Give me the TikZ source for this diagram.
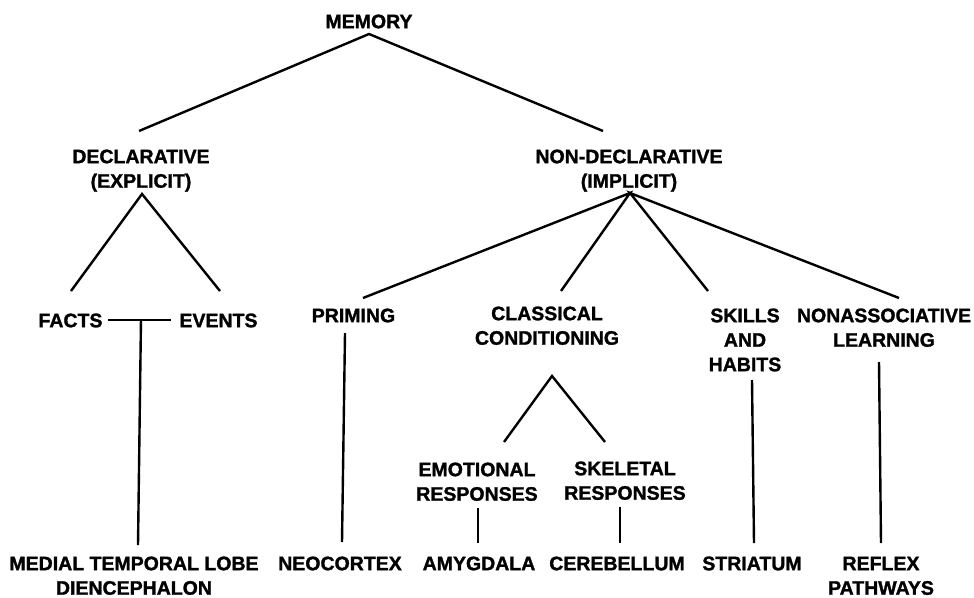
\documentclass[tikz,border=0pt]{standalone}
\usepackage{fontspec}
\setmainfont{Liberation Sans}[BoldFeatures={FakeBold=1.4}]
\usetikzlibrary{calc}
\newcommand{\fstrut}{\rule{0pt}{15pt}}
\tikzset{
  lbl/.style={anchor=north, inner sep=0pt, align=center,
    font=\fontsize{19.5}{24.5}\selectfont\bfseries},
  conn/.style={line width=2.4pt, line cap=butt}
}
\begin{document}
\begin{tikzpicture}[x=1pt,y=-1pt]
\useasboundingbox (0,0) rectangle (974,597);
% nodes
\node[lbl] (mem) at (369,13) {\fstrut MEMORY};
\node[lbl] (decl) at (141,148) {\fstrut DECLARATIVE\\(EXPLICIT)};
\node[lbl] (nondecl) at (629,148) {\fstrut NON-DECLARATIVE\\(IMPLICIT)};
\node[lbl] (facts) at (70.5,312) {\fstrut FACTS};
\node[lbl] (events) at (218.5,312) {\fstrut EVENTS};
\node[lbl] (priming) at (353.5,307) {\fstrut PRIMING};
\node[lbl] (classical) at (547,305) {\fstrut CLASSICAL\\CONDITIONING};
\node[lbl] (skills) at (745,307) {\fstrut SKILLS\\AND\\HABITS};
\node[lbl] (nonassoc) at (884,307) {\fstrut NONASSOCIATIVE\\LEARNING};
\node[lbl] (emot) at (477,461) {\fstrut EMOTIONAL\\RESPONSES};
\node[lbl] (skel) at (625,460) {\fstrut SKELETAL\\RESPONSES};
\node[lbl] (mtl) at (134,555) {\fstrut MEDIAL TEMPORAL LOBE\\DIENCEPHALON};
\node[lbl] (neo) at (340,555) {\fstrut NEOCORTEX};
\node[lbl] (amyg) at (479,555) {\fstrut AMYGDALA};
\node[lbl] (cereb) at (617,555) {\fstrut CEREBELLUM};
\node[lbl] (striat) at (752,555) {\fstrut STRIATUM};
\node[lbl] (reflex) at (881,555) {\fstrut REFLEX\\PATHWAYS};
% connectors
\draw[conn] ($(decl.north)+(-2,-17)$) -- ($(mem.north)+(0,21)$) -- ($(nondecl.north)+(-26,-17)$);
\draw[conn] ($(facts.north)+(0.5,-21)$) -- ($(decl.north)+(1,46)$) -- ($(events.north)+(1.5,-21)$);
\draw[conn] ($(priming.north)+(9.5,-9)$) -- ($(nondecl.north)+(1,45)$) -- ($(classical.north)+(14,-14)$);
\draw[conn] ($(skills.north)+(-37,-16)$) -- ($(nondecl.north)+(1,45)$) -- ($(nonassoc.north)+(15,-9)$);
\draw[conn] ($(facts.north east)+(5,8)$) -- ($(events.north west)+(-8,8)$);
\coordinate (fe) at ($(facts.north east)!0.5!(events.north west)+(0,8)$);
\draw[conn] (fe) -- ($(mtl.north)+(4,-10)$);
\draw[conn] ($(priming.north)+(-8.5,26)$) -- ($(neo.north)+(2,-13)$);
\draw[conn] ($(emot.north)+(27,-19)$) -- ($(classical.north)+(5,71)$) -- ($(skel.north)+(-20,-18)$);
\draw[conn] ($(emot.north)+(1,47)$) -- ($(amyg.north)+(-1,-12)$);
\draw[conn] ($(skel.north)+(-5,47)$) -- ($(cereb.north)+(3,-12)$);
\draw[conn] ($(skills.north)+(7,73)$) -- ($(striat.north)+(2,-12)$);
\draw[conn] ($(nonassoc.north)+(-5,55)$) -- ($(reflex.north)+(0,-12)$);
\end{tikzpicture}
\end{document}
